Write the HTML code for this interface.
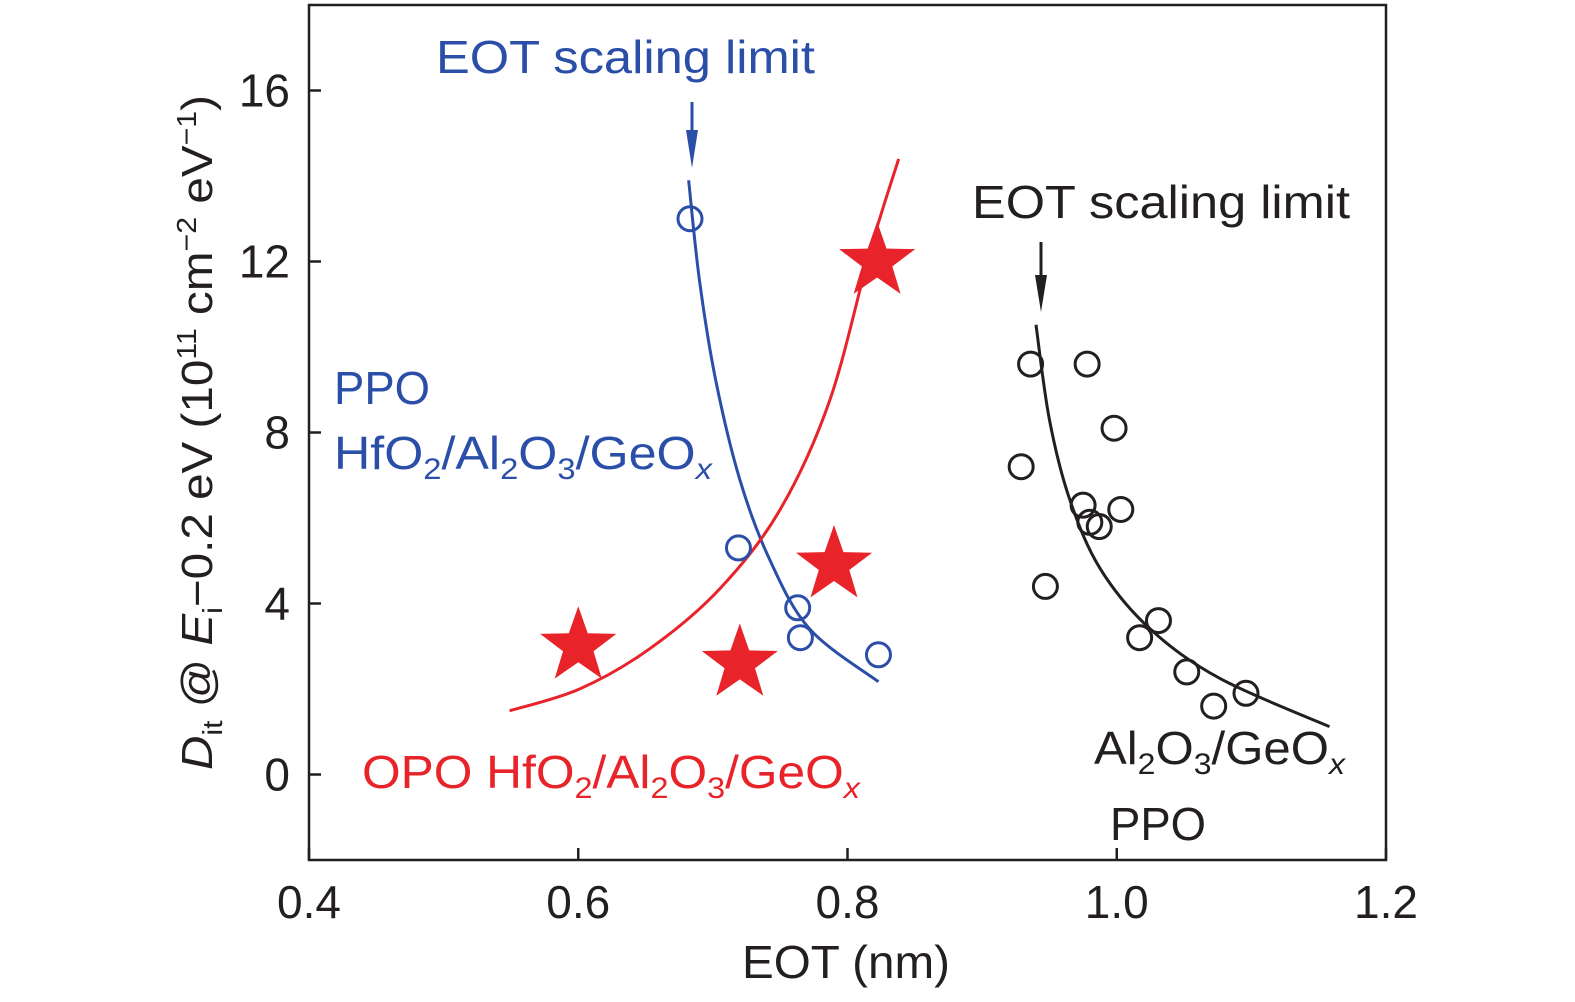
<!DOCTYPE html>
<html><head><meta charset="utf-8"><style>
body{margin:0;background:#fff}
svg{display:block;font-family:"Liberation Sans",sans-serif}
</style></head><body>
<svg id="chart" width="1575" height="1002" viewBox="0 0 1575 1002">
<rect x="309" y="5" width="1077" height="855" fill="none" stroke="#231f20" stroke-width="2.5"/>
<g id="ticks"></g>
<g id="series"></g>
<text x="742" y="978" font-size="46" textLength="208" lengthAdjust="spacingAndGlyphs" fill="#231f20">EOT (nm)</text>
<text transform="translate(212,770) rotate(-90)" font-size="44" textLength="675" lengthAdjust="spacingAndGlyphs" fill="#231f20"><tspan font-style="italic">D</tspan><tspan font-size="28" dy="10">it</tspan><tspan dy="-10"> @ </tspan><tspan font-style="italic">E</tspan><tspan font-size="28" dy="10">i</tspan><tspan dy="-10">−0.2 eV (10</tspan><tspan font-size="28" dy="-16">11</tspan><tspan dy="16"> cm</tspan><tspan font-size="28" dy="-16">−2</tspan><tspan dy="16"> eV</tspan><tspan font-size="28" dy="-16">−1</tspan><tspan dy="16">)</tspan></text>
<text x="436" y="73" font-size="46" textLength="379" lengthAdjust="spacingAndGlyphs" fill="#2b4fa8">EOT scaling limit</text>
<text x="972" y="218" font-size="46" textLength="378" lengthAdjust="spacingAndGlyphs" fill="#231f20">EOT scaling limit</text>
<text x="334" y="404" font-size="46" textLength="96" lengthAdjust="spacingAndGlyphs" fill="#2b4fa8">PPO</text>
<text x="334" y="469" font-size="46" textLength="378" lengthAdjust="spacingAndGlyphs" fill="#2b4fa8">HfO<tspan font-size="30" dy="10">2</tspan><tspan dy="-10">/Al</tspan><tspan font-size="30" dy="10">2</tspan><tspan dy="-10">O</tspan><tspan font-size="30" dy="10">3</tspan><tspan dy="-10">/GeO</tspan><tspan font-size="30" dy="10" font-style="italic">x</tspan></text>
<text x="362" y="788" font-size="46" textLength="498" lengthAdjust="spacingAndGlyphs" fill="#e8232a">OPO HfO<tspan font-size="30" dy="10">2</tspan><tspan dy="-10">/Al</tspan><tspan font-size="30" dy="10">2</tspan><tspan dy="-10">O</tspan><tspan font-size="30" dy="10">3</tspan><tspan dy="-10">/GeO</tspan><tspan font-size="30" dy="10" font-style="italic">x</tspan></text>
<text x="1094" y="764" font-size="46" textLength="251" lengthAdjust="spacingAndGlyphs" fill="#231f20">Al<tspan font-size="30" dy="10">2</tspan><tspan dy="-10">O</tspan><tspan font-size="30" dy="10">3</tspan><tspan dy="-10">/GeO</tspan><tspan font-size="30" dy="10" font-style="italic">x</tspan></text>
<text x="1110" y="840" font-size="46" textLength="96" lengthAdjust="spacingAndGlyphs" fill="#231f20">PPO</text>
<g>
<line x1="692" y1="102" x2="692" y2="140" stroke="#2b4fa8" stroke-width="3"/>
<path d="M686,130 L698,130 L692,168Z" fill="#2b4fa8"/>
</g>
<g>
<line x1="1041" y1="242" x2="1041" y2="280" stroke="#231f20" stroke-width="3"/>
<path d="M1035,275 L1047,275 L1041,312Z" fill="#231f20"/>
</g>
</svg>
<script>
const xTicks=[0.4,0.6,0.8,1.0,1.2];
const xTickLabels=["0.4","0.6","0.8","1.0","1.2"];
const yTicks=[0,4,8,12,16];
const yTickLabels=["0","4","8","12","16"];
const blueX=[0.683,0.719,0.763,0.765,0.823];
const blueY=[13.0,5.3,3.9,3.2,2.8];
const redX=[0.60,0.72,0.79,0.822];
const redY=[3.0,2.6,4.9,12.0];
const blackX=[0.936,0.978,0.998,0.929,0.975,0.980,0.987,1.003,0.947,1.031,1.017,1.052,1.072,1.096];
const blackY=[9.6,9.6,8.1,7.2,6.3,5.9,5.8,6.2,4.4,3.6,3.2,2.4,1.6,1.9];
const blueFitX=[0.682,0.690,0.702,0.720,0.742,0.772,0.823];
const blueFitY=[13.9,11.57,9.24,6.9,5.04,3.4,2.17];
const redFitX=[0.549,0.601,0.653,0.705,0.750,0.787,0.817,0.838];
const redFitY=[1.49,2.0,2.94,4.34,6.2,8.77,12.27,14.4];
const blackFitX=[0.940,0.950,0.965,0.988,1.025,1.077,1.158];
const blackFitY=[10.52,8.3,6.44,4.8,3.4,2.24,1.12];
const NS="http://www.w3.org/2000/svg";
const X0=309,X1=1386,Y0=860,Y1=5;
const xs=v=>X0+(v-0.4)/0.8*(X1-X0);
const ys=v=>Y0-(v+2)/20*(Y0-Y1);
function mk(t,a,p){const e=document.createElementNS(NS,t);for(const k in a)e.setAttribute(k,a[k]);p.appendChild(e);return e;}
const tg=document.getElementById('ticks'),sg=document.getElementById('series');
xTicks.forEach((v,i)=>{
 const l=mk('line',{x1:xs(v),x2:xs(v),y1:Y0,y2:Y0-12,stroke:'#231f20','stroke-width':2.5},tg);
 
 
 const t=mk('text',{x:xs(v),y:918,'font-size':46,'text-anchor':'middle',fill:'#231f20'},tg);
 t.textContent=xTickLabels[i];
 
 
});
yTicks.forEach((v,i)=>{
 const l=mk('line',{x1:X0,x2:X0+12,y1:ys(v),y2:ys(v),stroke:'#231f20','stroke-width':2.5},tg);
 
 
 const t=mk('text',{x:290,y:ys(v)+16,'font-size':46,'text-anchor':'end',fill:'#231f20'},tg);
 t.textContent=yTickLabels[i];
 
 
});
function smooth(X,Y){const p=X.map((x,i)=>[xs(x),ys(Y[i])]);let d='M'+p[0];for(let i=0;i<p.length-1;i++){const a=p[i-1]||p[i],b=p[i],c=p[i+1],e=p[i+2]||c;d+=' C'+(b[0]+(c[0]-a[0])/6)+','+(b[1]+(c[1]-a[1])/6)+' '+(c[0]-(e[0]-b[0])/6)+','+(c[1]-(e[1]-b[1])/6)+' '+c;}return d;}
function fit(X,Y,col,name){const e=mk('path',{d:smooth(X,Y),fill:'none',stroke:col,'stroke-width':3},sg);
 
 }
fit(blueFitX,blueFitY,'#2b4fa8','blue-fit-curve');
fit(redFitX,redFitY,'#e8232a','red-fit-curve');
fit(blackFitX,blackFitY,'#231f20','black-fit-curve');
blueX.forEach((x,i)=>{const c=mk('circle',{cx:xs(x),cy:ys(blueY[i]),r:12,fill:'none',stroke:'#2b4fa8','stroke-width':3},sg);
 
 });
blackX.forEach((x,i)=>{const c=mk('circle',{cx:xs(x),cy:ys(blackY[i]),r:12,fill:'none',stroke:'#231f20','stroke-width':3},sg);
 
 });
redX.forEach((x,i)=>{const cx=xs(x),cy=ys(redY[i]);let pts=[];for(let k=0;k<10;k++){const r=k%2?16:40,a=-Math.PI/2+k*Math.PI/5;pts.push((cx+r*Math.cos(a)).toFixed(1)+','+(cy+r*Math.sin(a)).toFixed(1));}
 const s=mk('polygon',{points:pts.join(' '),fill:'#e8232a'},sg);
 
 });
</script>
</body></html>
